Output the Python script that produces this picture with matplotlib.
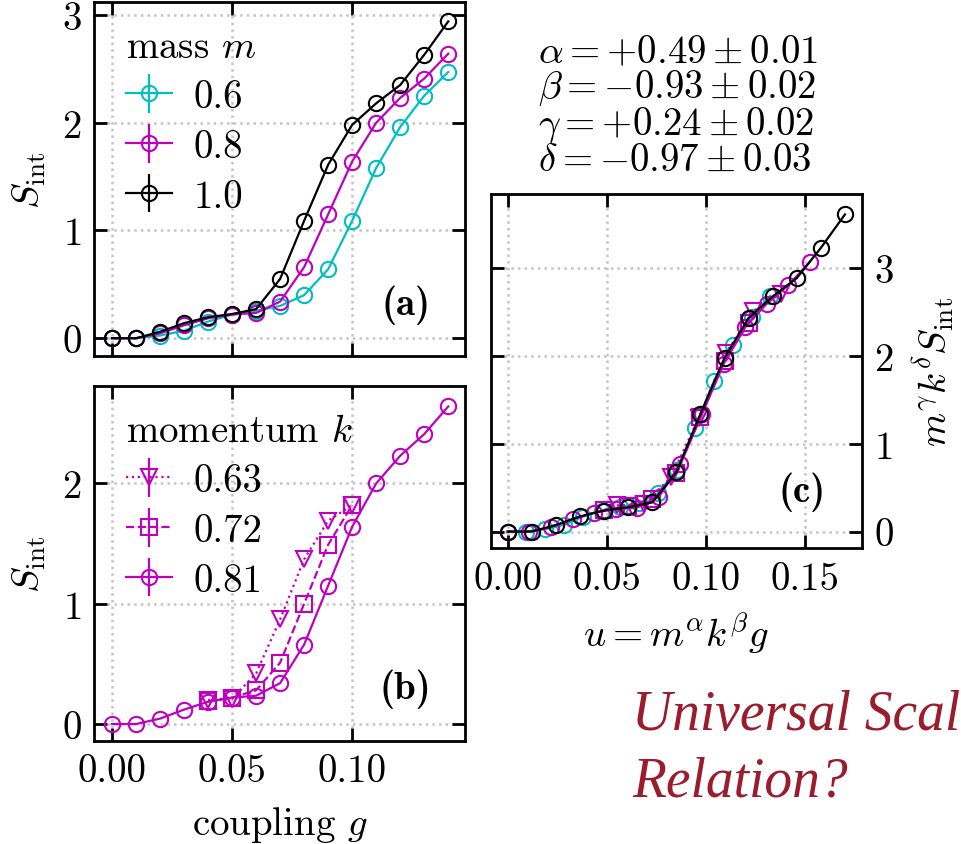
import numpy as np
import matplotlib
matplotlib.use("Agg")
import matplotlib.pyplot as plt
from matplotlib.ticker import FormatStrFormatter

# ── data ──
g = [0.00, 0.01, 0.02, 0.03, 0.04, 0.05, 0.06, 0.07, 0.08, 0.09, 0.10, 0.11, 0.12, 0.13, 0.14]
g_short = [0.04, 0.05, 0.06, 0.07, 0.08, 0.09, 0.10]

masses = [0.6, 0.8, 1.0]
momenta = [0.63, 0.72, 0.81]

# S_int vs g at k = 0.81, one series per mass
S_m06 = [0.00, 0.00, 0.025, 0.07, 0.155, 0.22, 0.255, 0.30, 0.40, 0.64, 1.09, 1.58, 1.96, 2.25, 2.47]
S_m08 = [0.00, 0.00, 0.045, 0.12, 0.185, 0.22, 0.235, 0.34, 0.66, 1.15, 1.64, 2.00, 2.23, 2.41, 2.64]
S_m10 = [0.00, 0.00, 0.06, 0.14, 0.195, 0.225, 0.27, 0.55, 1.09, 1.61, 1.98, 2.18, 2.35, 2.63, 2.94]

# S_int vs g at m = 0.8 for the smaller momenta
S_k063 = [0.20, 0.21, 0.42, 0.87, 1.37, 1.69, 1.82]
S_k072 = [0.19, 0.22, 0.28, 0.51, 1.00, 1.49, 1.82]

# fitted scaling exponents with uncertainties
exponents = [("alpha", 0.49, 0.01), ("beta", -0.93, 0.02),
             ("gamma", 0.24, 0.02), ("delta", -0.97, 0.03)]

alpha, beta, gamma, delta = [e[1] for e in exponents]

CYAN = "c"
MAGENTA = "m"
BLACK = "k"
TITLE_RED = "#9b1c2c"
GRID = "#c4c4c4"
FS = 28

plt.rcParams.update({
    "font.family": "cmr10",
    "mathtext.fontset": "cm",
    "axes.formatter.use_mathtext": True,
    "axes.unicode_minus": False,
    "font.size": FS,
    "axes.linewidth": 2.0,
    "xtick.direction": "in",
    "ytick.direction": "in",
    "xtick.top": True,
    "ytick.right": True,
    "xtick.major.size": 9.5,
    "ytick.major.size": 9.5,
    "xtick.major.width": 2.0,
    "ytick.major.width": 2.0,
    "xtick.major.pad": 9,
    "ytick.major.pad": 9,
})

fig = plt.figure(figsize=(9.62, 8.45), dpi=100, facecolor="white")
ax_a = fig.add_axes([0.0977, 0.5775, 0.3857, 0.4189])
ax_b = fig.add_axes([0.0977, 0.1222, 0.3857, 0.4198])
ax_c = fig.add_axes([0.5101, 0.3500, 0.3857, 0.4193])

style = dict(mfc="none", ms=11, mew=1.5, lw=1.6, capsize=0, elinewidth=1.6)


def series(ax, x, y, color, marker, ls, label=None, z=2):
    x = np.asarray(x)
    y = np.asarray(y)
    return ax.errorbar(x, y, yerr=np.zeros_like(y), color=color, marker=marker,
                       ls=ls, label=label, zorder=z, **style)


def frame(ax):
    ax.grid(True, ls=":", color=GRID, lw=1.8)
    ax.set_yticks([0, 1, 2, 3])
    ax.xaxis.set_major_formatter(FormatStrFormatter("%.2f"))


def key(ax, title):
    leg = ax.legend(title=title, loc="upper left", bbox_to_anchor=(0.012, 1.0),
                    frameon=False, alignment="left", handlelength=1.2,
                    handletextpad=0.55, labelspacing=0.36, borderaxespad=0.3)
    leg.get_title().set_fontsize(FS)
    return leg


# ── (a) mass dependence ──
series(ax_a, g, S_m06, CYAN, "o", "-", "0.6")
series(ax_a, g, S_m08, MAGENTA, "o", "-", "0.8")
series(ax_a, g, S_m10, BLACK, "o", "-", "1.0")
frame(ax_a)
ax_a.set_xticks([0.0, 0.05, 0.10])
ax_a.set_xlim(-0.0075, 0.147)
ax_a.set_ylim(-0.165, 3.12)
ax_a.tick_params(labelbottom=False)
ax_a.set_ylabel(r"$S_{\rm int}$", labelpad=10)
key(ax_a, r"mass $m$")
ax_a.text(0.84, 0.147, "(a)", transform=ax_a.transAxes, family="cmb10",
          ha="center", va="center", fontsize=FS)

# ── (b) momentum dependence ──
series(ax_b, g_short, S_k063, MAGENTA, "v", ":", "0.63")
series(ax_b, g_short, S_k072, MAGENTA, "s", "--", "0.72")
series(ax_b, g, S_m08, MAGENTA, "o", "-", "0.81")
frame(ax_b)
ax_b.set_xticks([0.0, 0.05, 0.10])
ax_b.set_yticks([0, 1, 2])
ax_b.set_xlim(-0.0075, 0.147)
ax_b.set_ylim(-0.139, 2.81)
ax_b.set_ylabel(r"$S_{\rm int}$", labelpad=10)
ax_b.set_xlabel(r"coupling $g$", labelpad=11)
key(ax_b, r"momentum $k$")
ax_b.text(0.84, 0.147, "(b)", transform=ax_b.transAxes, family="cmb10",
          ha="center", va="center", fontsize=FS)

# ── (c) data collapse onto u = m^a k^b g ──
collapse = [
    (g, S_m06, masses[0], momenta[2], CYAN, "o", "-"),
    (g_short, S_k063, masses[1], momenta[0], MAGENTA, "v", ":"),
    (g_short, S_k072, masses[1], momenta[1], MAGENTA, "s", "--"),
    (g, S_m08, masses[1], momenta[2], MAGENTA, "o", "-"),
    (g, S_m10, masses[2], momenta[2], BLACK, "o", "-"),
]
for i, (x, y, m, k, col, mk, ls) in enumerate(collapse):
    u = m ** alpha * k ** beta * np.asarray(x)
    s = m ** gamma * k ** delta * np.asarray(y)
    series(ax_c, u, s, col, mk, ls, z=2 + i)
frame(ax_c)
ax_c.set_xticks([0.0, 0.05, 0.10, 0.15])
ax_c.set_xlim(-0.0086, 0.1788)
ax_c.set_ylim(-0.19, 3.84)
ax_c.tick_params(labelleft=False, labelright=True)
ax_c.yaxis.set_label_position("right")
ax_c.set_ylabel(r"$m^\gamma k^\delta S_{\rm int}$", labelpad=12)
ax_c.set_xlabel(r"$u = m^\alpha k^\beta g$", labelpad=10)
ax_c.text(0.84, 0.16, "(c)", transform=ax_c.transAxes, family="cmb10",
          ha="center", va="center", fontsize=FS)

# exponent summary above panel (c)
lines = []
for name, val, err in exponents:
    sign = "+" if val >= 0 else "-"
    lines.append(rf"$\{name} = {sign}{abs(val):.2f} \pm {err:.2f}$")
fig.text(0.5595, 1 - 107 / 845, "\n".join(lines), ha="left", va="center",
         multialignment="left", linespacing=0.9, fontsize=FS)

# headline
fig.text(0.657, 1 - 730 / 845, "Universal Scal", family="Liberation Serif",
         style="italic", color=TITLE_RED, fontsize=40, ha="left", va="baseline")
fig.text(0.657, 1 - 797 / 845, "Relation?", family="Liberation Serif",
         style="italic", color=TITLE_RED, fontsize=40, ha="left", va="baseline")

fig.savefig("out.png", dpi=100, facecolor="white")
